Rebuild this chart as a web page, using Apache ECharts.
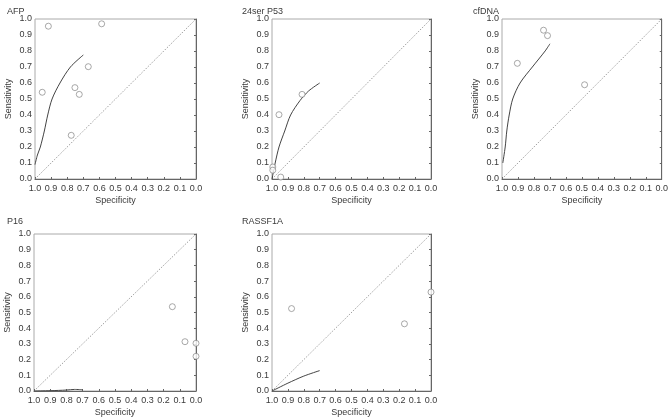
<!DOCTYPE html>
<html>
<head>
<meta charset="utf-8">
<script src="https://cdn.jsdelivr.net/npm/echarts@6/dist/echarts.min.js"></script>
<style>html,body{margin:0;padding:0;background:#fff}#c{width:671px;height:418px}</style>
</head>
<body>
<div id="c"></div>
<script>
// ---- data ----
const panelTitles = ["AFP", "24ser P53", "cfDNA", "P16", "RASSF1A"];
const tickLabels = ["0.0","0.1","0.2","0.3","0.4","0.5","0.6","0.7","0.8","0.9","1.0"];

// study points: [specificity, sensitivity]
const afpSpec = [0.917, 0.586, 0.955, 0.669, 0.752, 0.725, 0.775];
const afpSens = [0.955, 0.970, 0.542, 0.702, 0.571, 0.529, 0.273];
const p53Spec = [0.811, 0.956, 0.995, 0.995, 0.945];
const p53Sens = [0.529, 0.402, 0.075, 0.055, 0.012];
const cfdnaSpec = [0.740, 0.715, 0.904, 0.483];
const cfdnaSens = [0.930, 0.896, 0.723, 0.589];
const p16Spec = [0.146, 0.068, 0.0, 0.0];
const p16Sens = [0.537, 0.314, 0.304, 0.221];
const rassfSpec = [0.877, 0.167, 0.0];
const rassfSens = [0.525, 0.428, 0.630];

// SROC curves
const afpCurveSpec = [1.0, 0.985, 0.967, 0.942, 0.921, 0.894, 0.845, 0.78, 0.70];
const afpCurveSens = [0.09, 0.15, 0.20, 0.30, 0.40, 0.50, 0.60, 0.70, 0.775];
const p53CurveSpec = [1.0, 0.98, 0.956, 0.92, 0.883, 0.824, 0.77, 0.70];
const p53CurveSens = [0.0, 0.10, 0.20, 0.30, 0.40, 0.49, 0.55, 0.60];
const cfdnaCurveSpec = [0.995, 0.98, 0.97, 0.955, 0.933, 0.887, 0.81, 0.73, 0.70];
const cfdnaCurveSens = [0.10, 0.20, 0.30, 0.40, 0.50, 0.60, 0.70, 0.80, 0.845];
const p16CurveSpec = [1.0, 0.9, 0.8, 0.75, 0.70];
const p16CurveSens = [0.0, 0.002, 0.006, 0.010, 0.008];
const rassfCurveSpec = [1.0, 0.9, 0.8, 0.70];
const rassfCurveSens = [0.0, 0.05, 0.095, 0.13];

const diagSpec = [1.0, 0.0];
const diagSens = [0.0, 1.0];

// ---- layout ----
const grids = [
  {left: 35, top: 19, width: 161, height: 160},
  {left: 272, top: 19, width: 159, height: 160},
  {left: 502, top: 19, width: 160, height: 160},
  {left: 34, top: 234, width: 162, height: 162},
  {left: 272, top: 234, width: 159, height: 162}
];
const titlePos = [[2, 2], [237, 2], [468, 2], [2, 212], [237, 212]];

const pts = [[afpSpec, afpSens],[p53Spec,p53Sens],[cfdnaSpec,cfdnaSens],[p16Spec,p16Sens],[rassfSpec,rassfSens]];
const curves = [[afpCurveSpec,afpCurveSens],[p53CurveSpec,p53CurveSens],[cfdnaCurveSpec,cfdnaCurveSens],[p16CurveSpec,p16CurveSens],[rassfCurveSpec,rassfCurveSens]];

const zip = (a, b) => a.map((v, i) => [v, b[i]]);
const FONT = "Liberation Sans";
const txt = '#3a3a3a';

const option = {
  animation: false,
  backgroundColor: '#fff',
  title: panelTitles.map((t, i) => ({
    text: t, left: titlePos[i][0], top: titlePos[i][1],
    textStyle: {fontFamily: FONT, fontSize: 9, fontWeight: 'normal', color: txt}
  })),
  grid: grids.map(g => Object.assign({show: true, borderColor: '#aaa', borderWidth: 1, backgroundColor: 'transparent'}, g)),
  xAxis: grids.map((g, i) => ({
    type: 'value', gridIndex: i, min: 0, max: 1, interval: 0.1, inverse: true,
    name: 'Specificity', nameLocation: 'middle', nameGap: 17,
    nameTextStyle: {fontFamily: FONT, fontSize: 9, color: txt},
    axisLine: {show: true, lineStyle: {color: '#666', width: 1}},
    axisTick: {show: true, inside: true, length: 2, lineStyle: {color: '#666'}},
    axisLabel: {fontFamily: FONT, fontSize: 9, color: txt, margin: 5,
      formatter: v => tickLabels[Math.round(v * 10)]},
    splitLine: {show: false}
  })),
  yAxis: grids.map((g, i) => ({
    type: 'value', gridIndex: i, min: 0, max: 1, interval: 0.1,
    name: 'Sensitivity', nameLocation: 'middle', nameGap: 22,
    nameTextStyle: {fontFamily: FONT, fontSize: 9, color: txt},
    axisLine: {show: true, lineStyle: {color: '#666', width: 1}},
    axisTick: {show: true, length: 2, lineStyle: {color: '#666'}},
    axisLabel: {fontFamily: FONT, fontSize: 9, color: txt, margin: 3,
      formatter: v => tickLabels[Math.round(v * 10)]},
    splitLine: {show: false}
  })),
  series: []
};

for (let i = 0; i < 5; i++) {
  option.series.push({
    type: 'line', xAxisIndex: i, yAxisIndex: i, data: zip(diagSpec, diagSens),
    symbol: 'none', lineStyle: {color: '#777', width: 0.7, type: [1.5, 1.5]}, z: 1
  });
  option.series.push({
    type: 'line', xAxisIndex: i, yAxisIndex: i, data: zip(curves[i][0], curves[i][1]),
    symbol: 'none', smooth: 0.3, lineStyle: {color: '#444', width: 1}, z: 2
  });
  option.series.push({
    type: 'scatter', xAxisIndex: i, yAxisIndex: i, data: zip(pts[i][0], pts[i][1]),
    symbol: 'circle', symbolSize: 6,
    itemStyle: {color: '#fff', borderColor: '#777', borderWidth: 0.8}, z: 3
  });
}

const chart = echarts.init(document.getElementById('c'), null, {renderer: 'canvas'});
chart.setOption(option);
</script>
</body>
</html>
